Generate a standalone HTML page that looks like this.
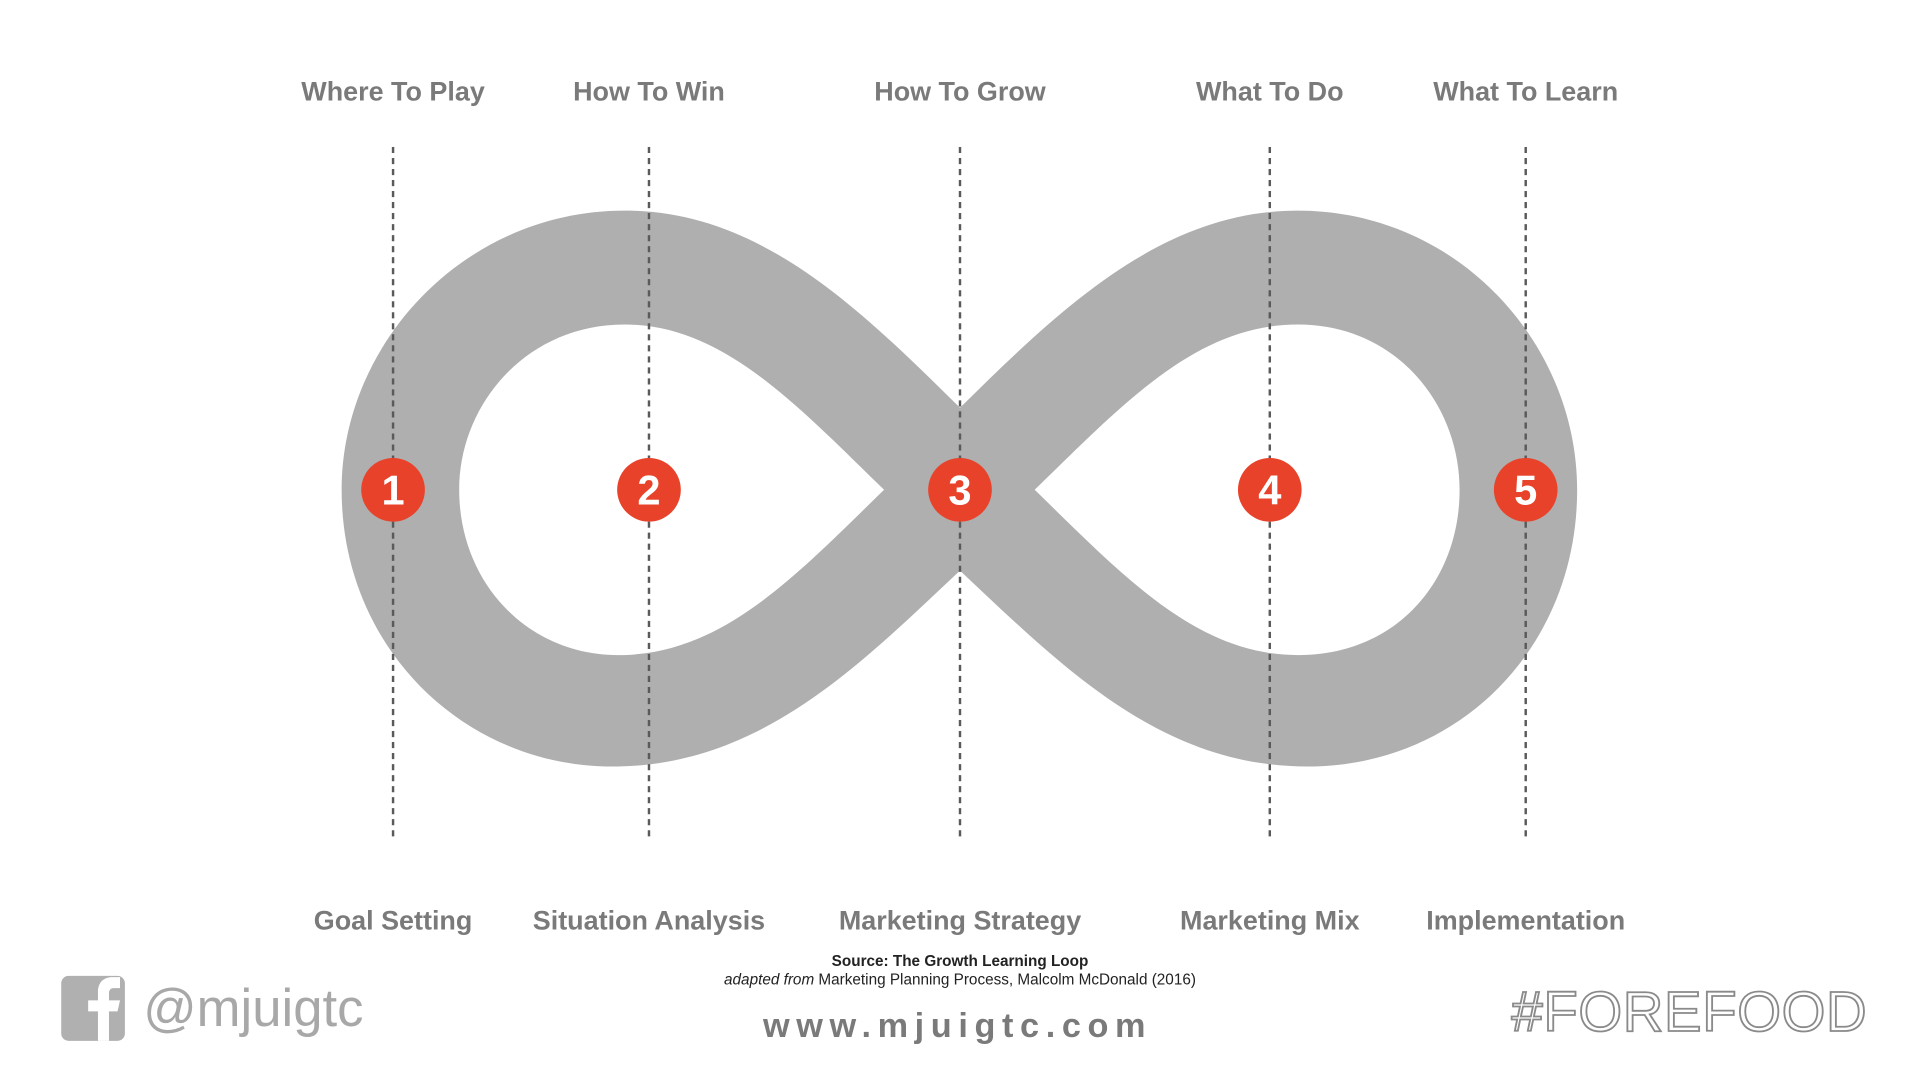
<!DOCTYPE html>
<html><head><meta charset="utf-8"><style>
html,body{margin:0;padding:0;background:#fff;}
svg{display:block;}
</style></head><body>
<svg width="1920" height="1080" viewBox="0 0 1568 882" xmlns="http://www.w3.org/2000/svg" font-family="Liberation Sans, Arial, sans-serif">
<rect width="1568" height="882" fill="#fff"/>
<path fill="#afafaf" fill-rule="evenodd" d="M784,333 C700,250 620,172 510,172 C380,172 279,280 279,400 C279,530 380,626 500,626 C620,626 700,545 784,466 C868,545 948,626 1068,626 C1190,626 1288,530 1288,400 C1288,280 1190,172 1060,172 C950,172 868,250 784,333 Z M722,400 C650,330 590,265 510,265 C430,265 375,330 375,400 C375,475 430,535 505,535 C590,535 650,470 722,400 Z M845,400 C917,330 977,265 1060,265 C1140,265 1192,330 1192,400 C1192,475 1140,535 1060,535 C977,535 917,470 845,400 Z"/>
<g stroke="#5a5a5a" stroke-width="2" stroke-dasharray="5,4">
<line x1="321" y1="120" x2="321" y2="684"/>
<line x1="530" y1="120" x2="530" y2="684"/>
<line x1="784" y1="120" x2="784" y2="684"/>
<line x1="1037" y1="120" x2="1037" y2="684"/>
<line x1="1246" y1="120" x2="1246" y2="684"/>
</g>
<g fill="#e8432a">
<circle cx="321" cy="400" r="26"/><circle cx="530" cy="400" r="26"/><circle cx="784" cy="400" r="26"/><circle cx="1037" cy="400" r="26"/><circle cx="1246" cy="400" r="26"/>
</g>
<g fill="#fff" font-size="34" font-weight="bold" text-anchor="middle">
<text x="321" y="412">1</text><text x="530" y="412">2</text><text x="784" y="412">3</text><text x="1037" y="412">4</text><text x="1246" y="412">5</text>
</g>
<g fill="#7a7a7a" font-size="22" font-weight="bold" text-anchor="middle">
<text x="321" y="82">Where To Play</text>
<text x="530" y="82">How To Win</text>
<text x="784" y="82">How To Grow</text>
<text x="1037" y="82">What To Do</text>
<text x="1246" y="82">What To Learn</text>
<text x="321" y="759">Goal Setting</text>
<text x="530" y="759">Situation Analysis</text>
<text x="784" y="759">Marketing Strategy</text>
<text x="1037" y="759">Marketing Mix</text>
<text x="1246" y="759">Implementation</text>
</g>
<text x="784" y="789" font-size="12.5" font-weight="bold" fill="#222" text-anchor="middle">Source: The Growth Learning Loop</text>
<text x="784" y="804" font-size="12.5" fill="#222" text-anchor="middle"><tspan font-style="italic">adapted from</tspan> Marketing Planning Process, Malcolm McDonald (2016)</text>
<text x="782" y="847" font-size="28" font-weight="bold" fill="#7a7a7a" text-anchor="middle" letter-spacing="5.4">www.mjuigtc.com</text>
<rect x="50" y="797" width="52" height="53" rx="6" fill="#b0b0b0"/>
<path d="M80,850 V826 H72 V817 H80 V810 C80,802 85,798 92,798 H98 V807 H93 C90,807 89,809 89,811 V817 H98 L96,826 H89 V850 Z" fill="#fff"/>
<text x="117" y="838" font-size="43" fill="#a8a8a8">@mjuigtc</text>
<text x="1525" y="842" font-size="46" fill="#fff" stroke="#8a8a8a" stroke-width="1.5" text-anchor="end" letter-spacing="0.5">#FOREFOOD</text>
</svg>
</body></html>
